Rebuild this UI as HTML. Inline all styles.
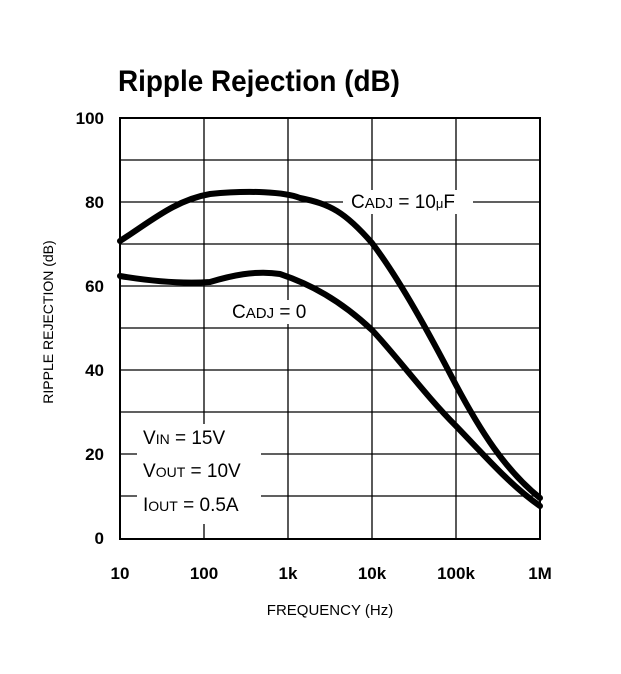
<!DOCTYPE html>
<html><head><style>
body{margin:0;background:#fff}
svg text{font-family:"Liberation Sans",sans-serif;fill:#000}
</style></head><body>
<svg width="621" height="669" viewBox="0 0 621 669" xmlns="http://www.w3.org/2000/svg">
<text x="118" y="91" font-size="30" font-weight="bold" transform="translate(118 0) scale(0.93 1) translate(-118 0)">Ripple Rejection (dB)</text>
<g stroke="#000" stroke-width="1.3" fill="none">
<path d="M120 160H540M120 202H540M120 244H540M120 286H540M120 328H540M120 370H540M120 412H540M120 454H540M120 496H540"/>
<path d="M204 118V539M288 118V539M372 118V539M456 118V539"/>
<rect x="120" y="118" width="420" height="421" stroke-width="2"/>
</g>
<rect x="137" y="424" width="124" height="100" fill="#fff"/>
<rect x="343" y="190" width="130" height="24" fill="#fff"/>
<rect x="228" y="300" width="90" height="24" fill="#fff"/>
<g stroke="#000" stroke-width="6" fill="none" stroke-linecap="round">
<path d="M120 241C150 222 175 200 210 194C250 190 285 192 300 198C330 204 345 212 372 243C400 280 430 335 456 385C480 430 505 470 540 498"/>
<path d="M120 276C150 281 180 284 210 282C230 276 255 270 280 274C310 284 340 300 372 330C400 360 425 395 456 426C485 456 510 485 540 506"/>
</g>
<g font-size="17" font-weight="bold">
<text x="104" y="124" text-anchor="end">100</text>
<text x="104" y="208" text-anchor="end">80</text>
<text x="104" y="292" text-anchor="end">60</text>
<text x="104" y="376" text-anchor="end">40</text>
<text x="104" y="460" text-anchor="end">20</text>
<text x="104" y="544" text-anchor="end">0</text>
<text x="120" y="579" text-anchor="middle">10</text>
<text x="204" y="579" text-anchor="middle">100</text>
<text x="288" y="579" text-anchor="middle">1k</text>
<text x="372" y="579" text-anchor="middle">10k</text>
<text x="456" y="579" text-anchor="middle">100k</text>
<text x="540" y="579" text-anchor="middle">1M</text>
</g>
<text x="330" y="615" font-size="15" text-anchor="middle">FREQUENCY (Hz)</text>
<text transform="translate(53 322) rotate(-90)" font-size="14" text-anchor="middle">RIPPLE REJECTION (dB)</text>
<g font-size="19">
<text x="351" y="208">C<tspan font-size="15">ADJ</tspan> = 10<tspan font-size="13">μ</tspan>F</text>
<text x="232" y="318">C<tspan font-size="15">ADJ</tspan> = 0</text>
<text x="143" y="444">V<tspan font-size="14">IN</tspan> = 15V</text>
<text x="143" y="477">V<tspan font-size="14">OUT</tspan> = 10V</text>
<text x="143" y="511">I<tspan font-size="14">OUT</tspan> = 0.5A</text>
</g>
</svg>
</body></html>
